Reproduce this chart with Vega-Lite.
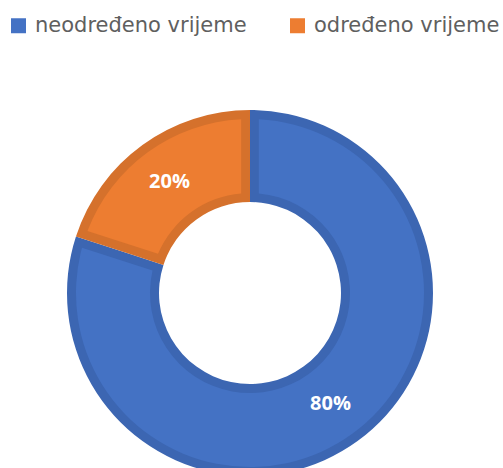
{
  "$schema": "https://vega.github.io/schema/vega-lite/v6.json",
  "autosize": {"type": "none"},
  "padding": 0,
  "width": 500,
  "height": 586,
  "background": "white",
  "data": {"values": [
    {"kategorija": "neodređeno vrijeme", "udio": 80, "oznaka": "80%", "ord": 1},
    {"kategorija": "određeno vrijeme", "udio": 20, "oznaka": "20%", "ord": 2}
  ]},
  "layer": [
    {
      "mark": {"type": "arc", "outerRadius": 183, "innerRadius": 91},
      "encoding": {
        "theta": {"field": "udio", "type": "quantitative", "stack": true},
        "order": {"field": "ord", "type": "quantitative"},
        "color": {"field": "kategorija", "type": "nominal", "legend": null,
          "scale": {"domain": ["neodređeno vrijeme", "određeno vrijeme"], "range": ["#3C66B2", "#D5712C"]}}
      }
    },
    {
      "mark": {"type": "arc", "outerRadius": 174, "innerRadius": 100, "padAngle": 0.088},
      "encoding": {
        "theta": {"field": "udio", "type": "quantitative", "stack": true},
        "order": {"field": "ord", "type": "quantitative"},
        "fill": {"field": "kategorija", "type": "nominal",
          "scale": {"domain": ["neodređeno vrijeme", "određeno vrijeme"], "range": ["#4472C4", "#ED7D31"]},
          "legend": {"title": null, "orient": "none", "legendX": 8, "legendY": 15, "direction": "horizontal",
            "symbolType": "square", "symbolSize": 225, "symbolStrokeWidth": 0, "labelFontSize": 21,
            "labelFont": "DejaVu Sans", "labelColor": "#5f5f5f", "labelOffset": 6, "columnPadding": 40, "labelLimit": 300}}
      }
    },
    {
      "mark": {"type": "text", "radius": 137, "color": "white", "fontSize": 20, "fontWeight": "bold", "font": "Open Sans"},
      "encoding": {
        "theta": {"field": "udio", "type": "quantitative", "stack": true},
        "order": {"field": "ord", "type": "quantitative"},
        "detail": {"field": "kategorija", "type": "nominal"},
        "text": {"field": "oznaka", "type": "nominal"}
      }
    }
  ],
  "resolve": {"scale": {"color": "independent", "fill": "independent", "theta": "shared"}},
  "config": {"view": {"stroke": null}}
}
